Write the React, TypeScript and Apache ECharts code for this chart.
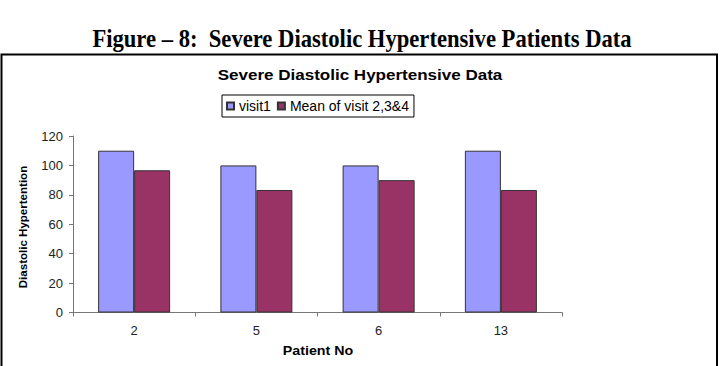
import React, { useEffect, useRef } from "react";
import * as echarts from "echarts";

const categories = ["2", "5", "6", "13"];
const visit1 = [110, 100, 100, 110];
const meanVisits = [96.7, 83.3, 90, 83.3];
const seriesNames = ["visit1", "Mean of visit 2,3&4"];
const yTicks = { min: 0, max: 120, interval: 20 };
const heading = "Figure – 8:  Severe Diastolic Hypertensive Patients Data";
const chartTitle = "Severe Diastolic Hypertensive Data";
const xName = "Patient No";
const yName = "Diastolic Hypertention";

export default function App() {
  const ref = useRef<HTMLDivElement>(null);
  useEffect(() => {
    if (!ref.current) return;
    const chart = echarts.init(ref.current, null, { renderer: "svg" });
    const sans = "'Liberation Sans', Arial, sans-serif";
    chart.setOption({
      animation: false,
      backgroundColor: "#ffffff",
      legend: {
        data: seriesNames,
        left: 222,
        top: 95,
        orient: "horizontal",
        borderColor: "#000",
        borderWidth: 1,
        padding: [4, 5, 4, 4],
        itemWidth: 7,
        itemHeight: 7,
        itemGap: 6,
        icon: "rect",
        textStyle: { fontFamily: sans, fontSize: 14, color: "#000", padding: [0, 0, 0, 0] },
      },
      grid: { left: 73, right: 160, top: 136, bottom: 53.5 },
      xAxis: {
        type: "category",
        data: categories,
        axisLine: { lineStyle: { color: "#777", width: 1 } },
        axisTick: { show: true, alignWithLabel: false, length: 4, lineStyle: { color: "#777" } },
        axisLabel: { fontFamily: sans, fontSize: 13, color: "#222", margin: 11 },
      },
      yAxis: {
        type: "value",
        min: yTicks.min,
        max: yTicks.max,
        interval: yTicks.interval,
        axisLine: { show: true, lineStyle: { color: "#777", width: 1 } },
        axisTick: { show: true, length: 4, lineStyle: { color: "#777" } },
        axisLabel: { fontFamily: sans, fontSize: 13, color: "#222", margin: 10 },
        splitLine: { show: false },
      },
      series: [
        {
          name: seriesNames[0],
          type: "bar",
          data: visit1,
          barWidth: 36,
          barGap: "0%",
          itemStyle: { color: "#9999FF", borderColor: "#333", borderWidth: 1 },
        },
        {
          name: seriesNames[1],
          type: "bar",
          data: meanVisits,
          barWidth: 36,
          barGap: "0%",
          itemStyle: { color: "#993366", borderColor: "#333", borderWidth: 1 },
        },
      ],
      graphic: [
        {
          type: "text",
          x: 362,
          y: 38,
          scaleX: 0.87,
          style: {
            text: heading,
            fontFamily: "'Liberation Serif', 'Times New Roman', serif",
            fontSize: 26,
            fontWeight: "bold",
            fill: "#000",
            align: "center",
            verticalAlign: "middle",
          },
        },
        {
          type: "text",
          x: 360,
          y: 74.5,
          scaleX: 1.135,
          style: {
            text: chartTitle,
            fontFamily: sans,
            fontSize: 15,
            fontWeight: "bold",
            fill: "#000",
            align: "center",
            verticalAlign: "middle",
          },
        },
        {
          type: "text",
          x: 318,
          y: 351,
          scaleX: 1.19,
          style: {
            text: xName,
            fontFamily: sans,
            fontSize: 12,
            fontWeight: "bold",
            fill: "#000",
            align: "center",
            verticalAlign: "middle",
          },
        },
        {
          type: "text",
          x: 23,
          y: 227,
          rotation: Math.PI / 2,
          scaleX: 1.05,
          style: {
            text: yName,
            fontFamily: sans,
            fontSize: 11,
            fontWeight: "bold",
            fill: "#000",
            align: "center",
            verticalAlign: "middle",
          },
        },
        {
          type: "polyline",
          shape: { points: [[1.5, 366], [1.5, 54.5], [717, 54.5], [717, 366]] },
          style: { stroke: "#000", lineWidth: 2, fill: "none" },
        },
      ],
    });
    return () => chart.dispose();
  }, []);
  return (
    <div
      ref={ref}
      style={{ position: "fixed", left: 0, top: 0, width: 722, height: 366 }}
    />
  );
}
